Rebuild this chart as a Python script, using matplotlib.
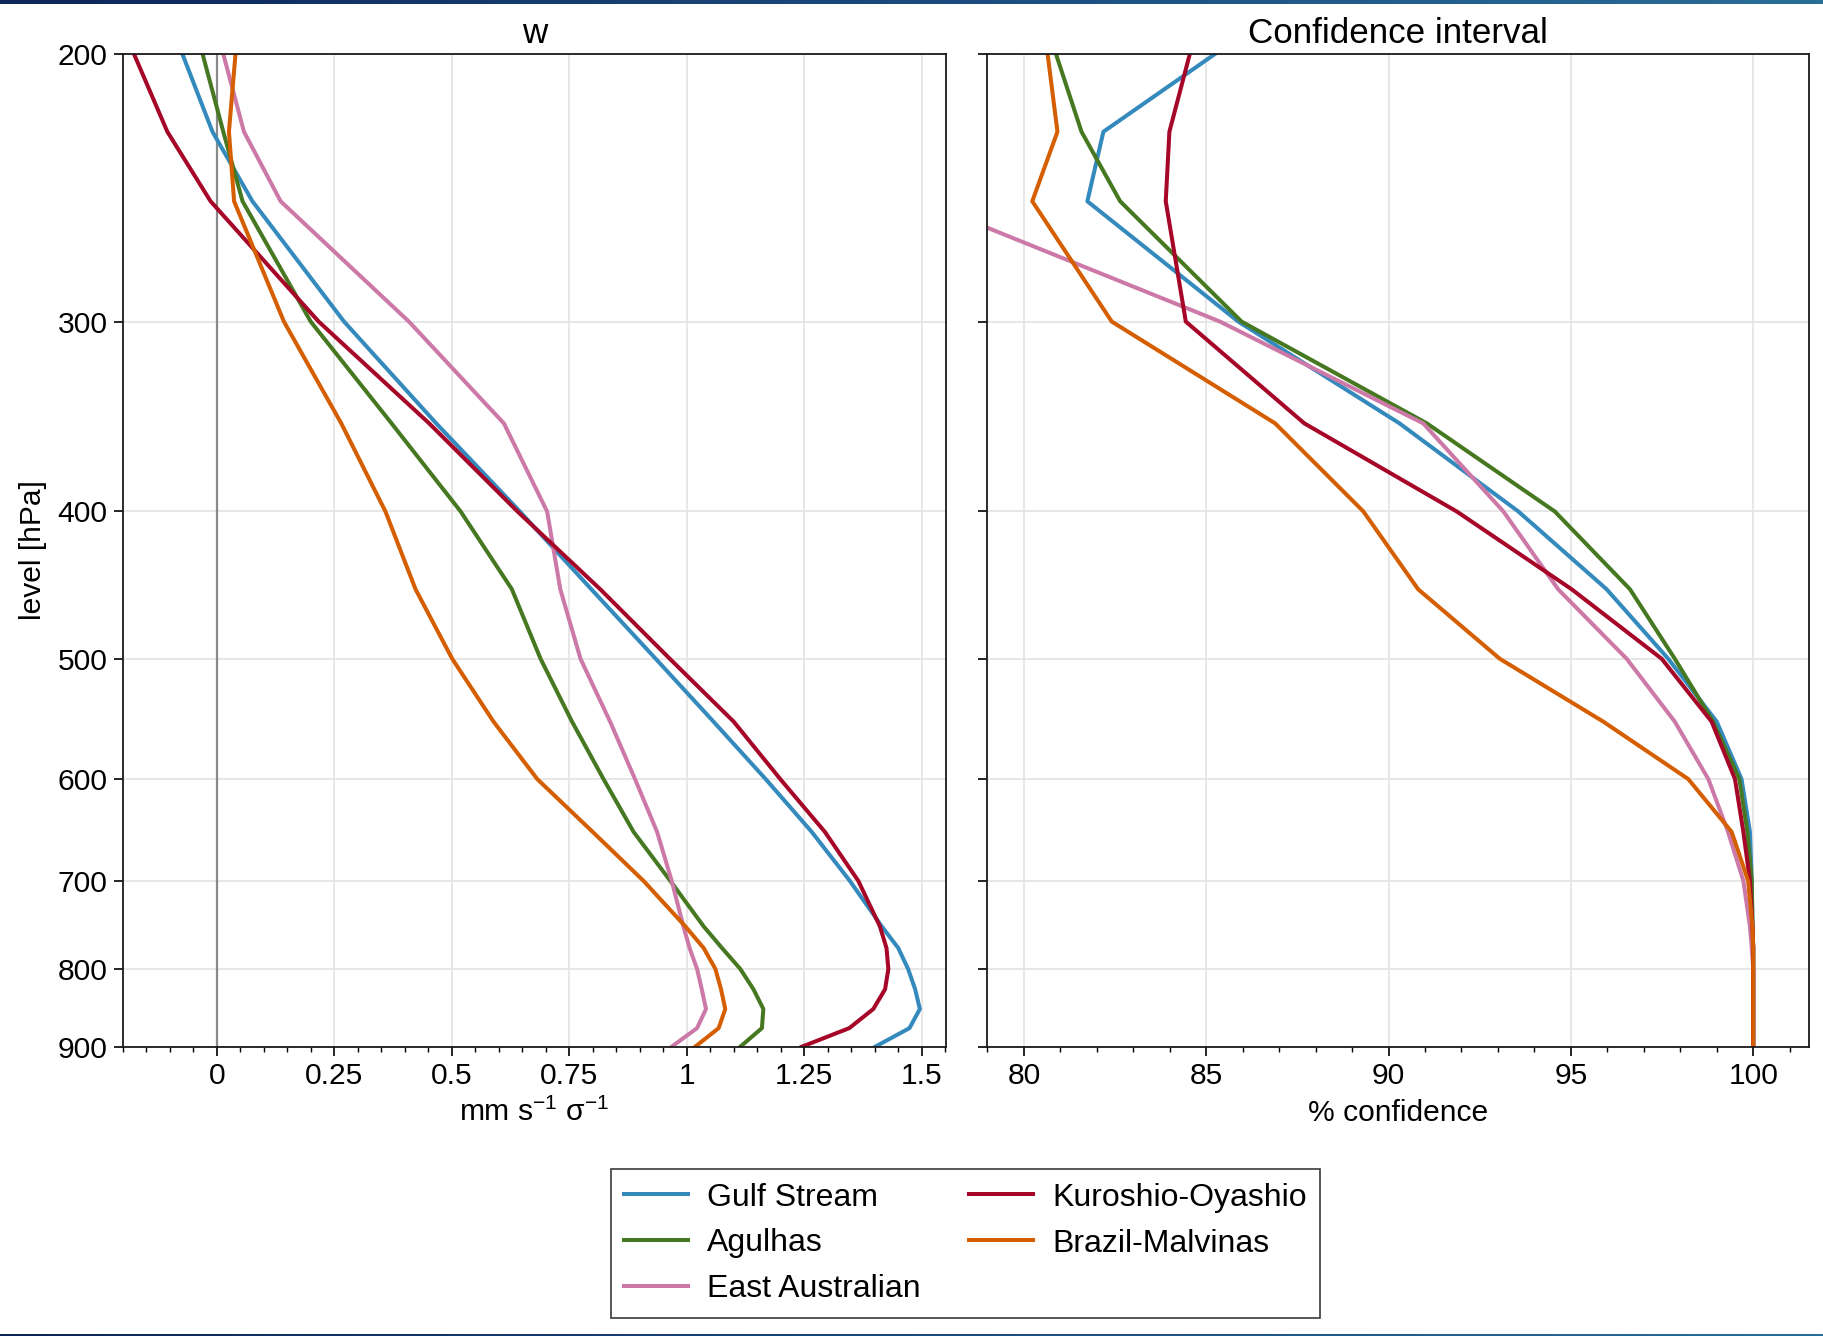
import matplotlib.pyplot as plt
import numpy as np
from matplotlib.colors import LinearSegmentedColormap
from matplotlib.ticker import FixedLocator, MultipleLocator, NullFormatter

plt.rcParams['font.family'] = ['Liberation Sans', 'DejaVu Sans']
plt.rcParams['mathtext.fontset'] = 'custom'
plt.rcParams['mathtext.rm'] = 'Liberation Sans'
plt.rcParams['mathtext.it'] = 'Liberation Sans:italic'

FS = 10.8

# pressure levels (hPa)
LEVELS = [200, 225, 250, 300, 350, 400, 450, 500, 550, 600,
          650, 700, 750, 775, 800, 825, 850, 875, 900]

NAMES = ["Gulf Stream", "Agulhas", "East Australian", "Kuroshio-Oyashio", "Brazil-Malvinas"]
COLORS = ["#348ABD", "#467821", "#CC79A7", "#A60628", "#D55E00"]

# w (mm s-1 sigma-1)
w_gulf = [-0.073, -0.009, 0.076, 0.271, 0.467, 0.645, 0.797, 0.934, 1.057, 1.168,
          1.266, 1.347, 1.415, 1.450, 1.471, 1.486, 1.496, 1.474, 1.401]
w_agul = [-0.030, 0.014, 0.055, 0.200, 0.372, 0.519, 0.628, 0.689, 0.756, 0.823,
          0.887, 0.965, 1.036, 1.075, 1.114, 1.142, 1.163, 1.160, 1.114]
w_east = [0.014, 0.058, 0.136, 0.409, 0.611, 0.703, 0.731, 0.774, 0.837, 0.890,
          0.937, 0.968, 0.993, 1.006, 1.022, 1.032, 1.041, 1.022, 0.968]
w_kuro = [-0.176, -0.105, -0.013, 0.217, 0.452, 0.640, 0.816, 0.964, 1.100, 1.199,
          1.294, 1.365, 1.411, 1.425, 1.429, 1.422, 1.397, 1.346, 1.245]
w_braz = [0.040, 0.026, 0.037, 0.143, 0.265, 0.359, 0.423, 0.501, 0.589, 0.682,
          0.800, 0.908, 0.997, 1.036, 1.061, 1.073, 1.082, 1.068, 1.018]

# % confidence
ci_gulf = [85.24, 82.18, 81.74, 85.88, 90.30, 93.56, 95.98, 97.67, 99.00, 99.68,
           99.91, 99.96, 99.98, 100.0, 100.0, 100.0, 100.0, 100.0, 100.0]
ci_agul = [80.88, 81.58, 82.64, 85.97, 91.05, 94.56, 96.62, 97.85, 98.90, 99.62,
           99.84, 99.96, 99.98, 100.0, 100.0, 100.0, 100.0, 100.0, 100.0]
ci_east = [70.5, 73.0, 77.2, 85.38, 90.95, 93.15, 94.65, 96.53, 97.85, 98.77,
           99.31, 99.73, 99.91, 99.96, 100.0, 100.0, 100.0, 100.0, 100.0]
ci_kuro = [84.55, 83.99, 83.89, 84.44, 87.69, 91.87, 95.02, 97.49, 98.86, 99.50,
           99.73, 99.91, 99.98, 100.0, 100.0, 100.0, 100.0, 100.0, 100.0]
ci_braz = [80.65, 80.92, 80.23, 82.41, 86.89, 89.31, 90.81, 93.05, 95.89, 98.22,
           99.41, 99.86, 99.98, 100.0, 100.0, 100.0, 100.0, 100.0, 100.0]

W_SERIES = [w_gulf, w_agul, w_east, w_kuro, w_braz]
CI_SERIES = [ci_gulf, ci_agul, ci_east, ci_kuro, ci_braz]

W_TICKS = [0, 0.25, 0.5, 0.75, 1, 1.25, 1.5]
W_TICKLABELS = ["0", "0.25", "0.5", "0.75", "1", "1.25", "1.5"]
CI_TICKS = [80, 85, 90, 95, 100]
Y_TICKS = [200, 300, 400, 500, 600, 700, 800, 900]

W_PX, H_PX = 1824, 1336


def style_axes(ax):
    ax.set_yscale('log')
    ax.set_ylim(900, 200)
    ax.yaxis.set_major_locator(FixedLocator(Y_TICKS))
    ax.yaxis.set_minor_locator(FixedLocator([]))
    ax.grid(True, which='major', color='#e3e3e3', linewidth=0.6, zorder=0)
    ax.set_axisbelow(True)
    for s in ax.spines.values():
        s.set_linewidth(0.65)
        s.set_color('#1a1a1a')
    ax.tick_params(axis='both', which='major', direction='out', length=3.2,
                   width=0.6, labelsize=FS, pad=2.2)
    ax.tick_params(axis='x', which='minor', direction='out', length=1.8, width=0.5)
    ax.tick_params(axis='y', which='minor', length=0)


def main():
    fig = plt.figure(figsize=(W_PX / 200, H_PX / 200), dpi=200)

    bottom = 1 - 1046.7 / H_PX
    height = (1046.7 - 54) / H_PX
    ax1 = fig.add_axes([122.7 / W_PX, bottom, (945.7 - 122.7) / W_PX, height])
    ax2 = fig.add_axes([986.7 / W_PX, bottom, (1809 - 986.7) / W_PX, height])

    ax1.axvline(0, color='#8a8a8a', linewidth=0.8, zorder=1.5)
    for name, color, vals in zip(NAMES, COLORS, W_SERIES):
        ax1.plot(vals, LEVELS, color=color, linewidth=1.45, label=name, zorder=2)
    for name, color, vals in zip(NAMES, COLORS, CI_SERIES):
        ax2.plot(vals, LEVELS, color=color, linewidth=1.45, zorder=2)

    style_axes(ax1)
    style_axes(ax2)

    ax1.set_xlim(-0.2, 1.551)
    ax1.set_xticks(W_TICKS)
    ax1.set_xticklabels(W_TICKLABELS)
    ax1.xaxis.set_minor_locator(MultipleLocator(0.05))
    ax1.set_yticklabels([str(t) for t in Y_TICKS])

    ax2.set_xlim(78.98, 101.53)
    ax2.set_xticks(CI_TICKS)
    ax2.set_xticklabels([str(t) for t in CI_TICKS])
    ax2.xaxis.set_minor_locator(MultipleLocator(1))
    ax2.yaxis.set_major_formatter(NullFormatter())

    ax1.set_title("w", fontsize=12.6, pad=3.8)
    ax2.set_title("Confidence interval", fontsize=12.6, pad=3.8)

    fig.text(534 / W_PX, 1 - 1121 / H_PX, r"mm s$^{-1}$ σ$^{-1}$", fontsize=FS,
             ha='center', va='baseline')
    fig.text(1398 / W_PX, 1 - 1121 / H_PX, "% confidence", fontsize=FS,
             ha='center', va='baseline')
    fig.text(33 / W_PX, 1 - 550 / H_PX, "level [hPa]", fontsize=FS,
             rotation=90, ha='center', va='center')

    handles, labels = ax1.get_legend_handles_labels()
    leg = fig.legend(handles, labels, loc='center', ncol=2,
                     bbox_to_anchor=(965.5 / W_PX, 1 - 1243.5 / H_PX),
                     fontsize=11.5, frameon=True, fancybox=False,
                     handlelength=2.0, handletextpad=0.6, columnspacing=1.5,
                     labelspacing=0.5, borderpad=0.42)
    frame = leg.get_frame()
    frame.set_edgecolor('#3a3a3a')
    frame.set_linewidth(0.6)
    frame.set_alpha(1)

    # thin window bars at top and bottom edges
    cmap = LinearSegmentedColormap.from_list("bar", ["#0d2557", "#1b4a7d", "#2a6e98"])
    top = fig.add_axes([0, 1 - 4 / H_PX, 1, 4 / H_PX])
    top.imshow(np.linspace(0, 1, 256).reshape(1, -1), cmap=cmap, aspect='auto')
    top.axis('off')
    bot = fig.add_axes([0, 0, 1, 2 / H_PX])
    bot.imshow(np.linspace(0, 1, 256).reshape(1, -1), cmap=cmap, aspect='auto')
    bot.axis('off')

    fig.savefig("out.png", dpi=200)


if __name__ == "__main__":
    main()
